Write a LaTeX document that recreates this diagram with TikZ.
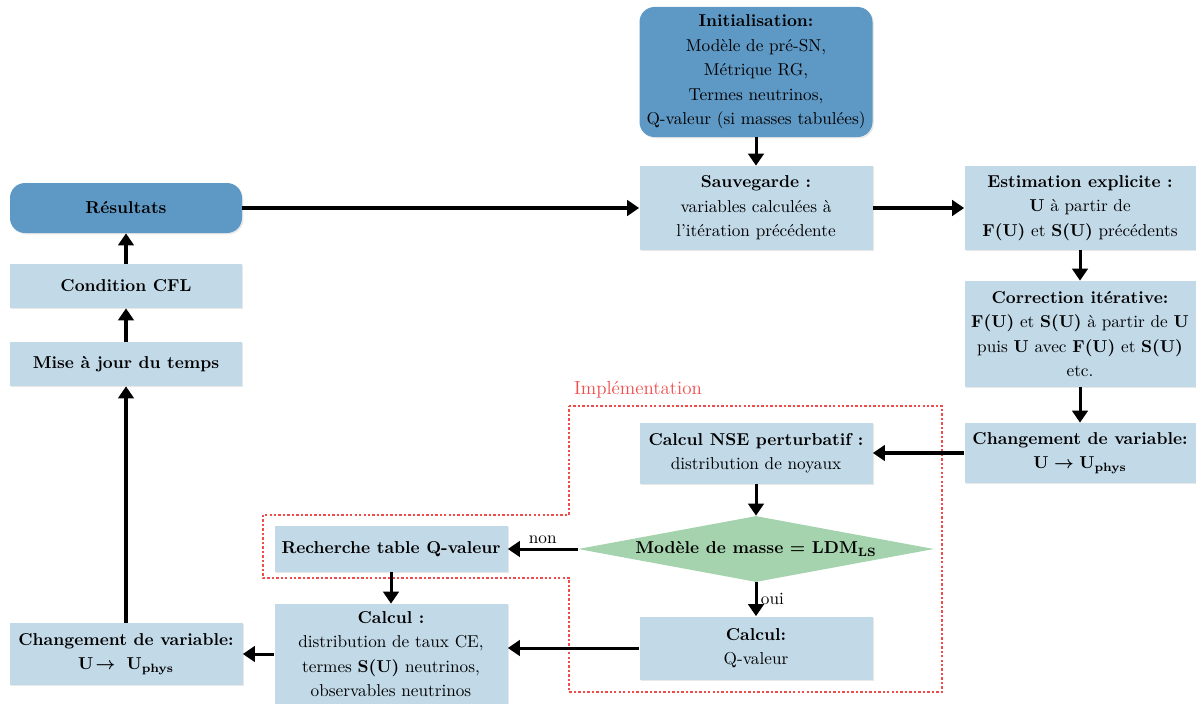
\documentclass[tikz,border=0pt]{standalone}
\usetikzlibrary{arrows.meta,shapes.geometric,shadows}
\definecolor{lightbox}{RGB}{194,217,232}
\definecolor{darkbox}{RGB}{94,152,196}
\definecolor{greenbox}{RGB}{164,211,173}
\definecolor{reddot}{RGB}{240,76,76}
\newcommand\bFU{{\boldmath$\mathbf{F}(\mathbf{U})$}}
\newcommand\bSU{{\boldmath$\mathbf{S}(\mathbf{U})$}}
\newcommand\bUU{{\boldmath$\mathbf{U}$}}
\def\pu{0.581pt}
\begin{document}
\begin{tikzpicture}[x=0.581pt,y=-0.581pt,
  box/.style={rectangle, fill=lightbox, draw=none, inner sep=0pt, align=center,
    font=\fontsize{10}{14.2}\selectfont,
    drop shadow={shadow xshift=0.8pt, shadow yshift=-0.8pt, opacity=0.18}},
  rbox/.style={box, fill=darkbox, rounded corners=8.7pt},
  arr/.style={line width=1.75pt, -{Triangle[length=7pt,width=9pt]}},
  lbl/.style={font=\fontsize{10}{12}\selectfont, inner sep=2pt},
  impl/.style={draw=reddot, line width=1.5pt, dash pattern=on 1.4pt off 1.2pt}]
\useasboundingbox (0,0) rectangle (1196,704);

\node[rbox, minimum width=233*\pu, minimum height=130*\pu] (init) at (756,72)
  {\textbf{Initialisation:}\\Modèle de pré-SN,\\Métrique RG,\\Termes neutrinos,\\Q-valeur (si masses tabulées)};
\node[box, minimum width=233*\pu, minimum height=84*\pu] (sauv) at (756,208)
  {\textbf{Sauvegarde :}\\variables calculées à\\l'itération précédente};
\node[rbox, minimum width=232*\pu, minimum height=50*\pu] (res) at (126,208)
  {\textbf{Résultats}};
\node[box, minimum width=232*\pu, minimum height=44*\pu] (cfl) at (126,286)
  {\textbf{Condition CFL}};
\node[box, minimum width=232*\pu, minimum height=44*\pu] (maj) at (126,364)
  {\textbf{Mise à jour du temps}};
\node[box, minimum width=231*\pu, minimum height=84*\pu] (est) at (1080,208)
  {\textbf{Estimation explicite :}\\\bUU{} à partir de\\\bFU{} et \bSU{} précédents};
\node[box, minimum width=231*\pu, minimum height=106*\pu] (corr) at (1080,334)
  {\textbf{Correction itérative:}\\\bFU{} et \bSU{} à partir de \bUU\\puis \bUU{} avec \bFU{} et \bSU\\etc.};
\node[box, minimum width=231*\pu, minimum height=60*\pu] (chgR) at (1080,453)
  {\textbf{Changement de variable:}\\{\boldmath$\mathbf{U}\rightarrow\mathbf{U}_{\mathbf{phys}}$}};
\node[box, minimum width=233*\pu, minimum height=61*\pu] (nse) at (756,453)
  {\textbf{Calcul NSE perturbatif :}\\distribution de noyaux};
\node[diamond, fill=greenbox, inner sep=0pt, aspect=5.4,
  minimum width=356*\pu, minimum height=66*\pu,
  font=\fontsize{10}{14.2}\selectfont] (diam) at (756,549)
  {\bfseries Modèle de masse {\boldmath$=$} LDM$_{\mathbf{LS}}$};
\node[box, minimum width=233*\pu, minimum height=46*\pu] (rech) at (391,549)
  {\textbf{Recherche table Q-valeur}};
\node[box, minimum width=233*\pu, minimum height=100*\pu] (calc) at (391,654)
  {\textbf{Calcul :}\\distribution de taux CE,\\termes \bSU{} neutrinos,\\observables neutrinos};
\node[box, minimum width=233*\pu, minimum height=63*\pu] (calcQ) at (756,648)
  {\textbf{Calcul:}\\Q-valeur};
\node[box, minimum width=233*\pu, minimum height=62*\pu] (chgL) at (126,654)
  {\textbf{Changement de variable:}\\{\boldmath$\mathbf{U}\!\rightarrow\ \mathbf{U}_{\mathbf{phys}}$}};

\node[font=\fontsize{11}{13}\selectfont, text=reddot, inner sep=0pt] (impllbl) at (638,390) {Implémentation};
\draw[impl] (569,406) -- (942,406) -- (942,692) -- (569,692) -- (569,578)
  -- (263,578) -- (263,515) -- (569,515) -- cycle;

\draw[arr] (init) -- (sauv);
\draw[arr] (res) -- (sauv);
\draw[arr] (sauv) -- (est);
\draw[arr] (est) -- (corr);
\draw[arr] (corr) -- (chgR);
\draw[arr] (chgR) -- (nse);
\draw[arr] (nse) -- (diam);
\draw[arr] (diam) -- node[lbl, above] {non} (rech);
\draw[arr] (diam) -- node[lbl, right] {oui} (calcQ);
\draw[arr] (rech) -- (calc);
\draw[arr] (calcQ.west) -- (calcQ.west -| calc.east);
\draw[arr] (calc) -- (chgL);
\draw[arr] (chgL) -- (maj);
\draw[arr] (maj) -- (cfl);
\draw[arr] (cfl) -- (res);
\end{tikzpicture}
\end{document}
